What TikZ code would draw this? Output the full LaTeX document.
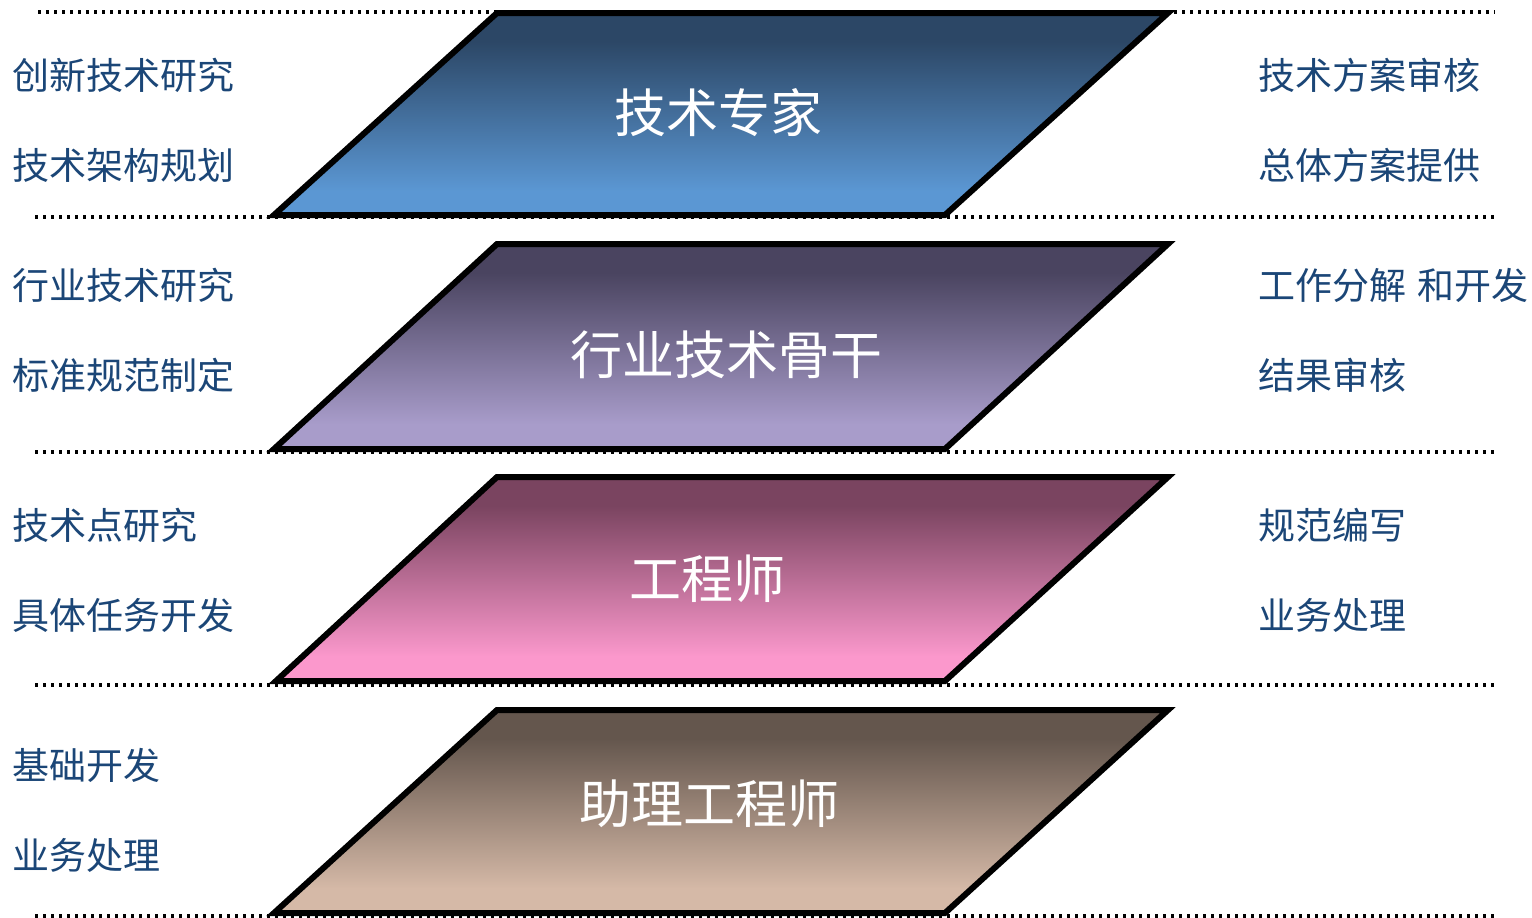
\documentclass[tikz,border=0pt]{standalone}
\usepackage{fontspec}
\newfontfamily\cjk{Noto Sans CJK SC}
\definecolor{sidetext}{HTML}{1B4677}
\definecolor{aTop}{HTML}{2C4766}
\definecolor{aBot}{HTML}{5B97D3}
\definecolor{bTop}{HTML}{4A4460}
\definecolor{bBot}{HTML}{A89CCA}
\definecolor{cTop}{HTML}{7A4460}
\definecolor{cBot}{HTML}{FB98CC}
\definecolor{dTop}{HTML}{64564D}
\definecolor{dBot}{HTML}{D5B9A7}
\pgfdeclareverticalshading{aShade}{100bp}{color(0bp)=(aBot); color(31bp)=(aBot); color(68bp)=(aTop); color(100bp)=(aTop)}
\pgfdeclareverticalshading{bShade}{100bp}{color(0bp)=(bBot); color(31bp)=(bBot); color(68bp)=(bTop); color(100bp)=(bTop)}
\pgfdeclareverticalshading{cShade}{100bp}{color(0bp)=(cBot); color(31bp)=(cBot); color(68bp)=(cTop); color(100bp)=(cTop)}
\pgfdeclareverticalshading{dShade}{100bp}{color(0bp)=(dBot); color(31bp)=(dBot); color(68bp)=(dTop); color(100bp)=(dTop)}
\tikzset{
  sep/.style={line width=3.2pt, dash pattern=on 3.2pt off 4.8pt},
  layer/.style={draw=black, line width=6pt, line join=miter},
  sidel/.style={anchor=west, inner sep=0pt, text=sidetext, font=\cjk\fontsize{37}{40}\selectfont},
  sider/.style={anchor=west, inner sep=0pt, text=sidetext, font=\cjk\fontsize{37}{40}\selectfont},
  title/.style={anchor=center, inner sep=0pt, text=white, font=\cjk\fontsize{52}{56}\selectfont}
}
\begin{document}
\begin{tikzpicture}[x=1pt,y=-1pt]
\useasboundingbox (0,0) rectangle (1532,918);
% separators
\draw[sep] (38,12) -- (1495,12);
\draw[sep] (35,217) -- (1495,217);
\draw[sep] (35,452) -- (1495,452);
\draw[sep] (35,685) -- (1495,685);
\draw[sep] (35,916) -- (1495,916);
% layers
\path[layer, shading=aShade] (497,13) -- (1168,13) -- (945,215) -- (274,215) -- cycle;
\path[layer, shading=bShade] (497,244) -- (1168,244) -- (945,449) -- (274,449) -- cycle;
\path[layer, shading=cShade] (497,477) -- (1168,477) -- (945,681) -- (276,681) -- cycle;
\path[layer, shading=dShade] (497,710) -- (1168,710) -- (945,913) -- (274,913) -- cycle;
% titles
\node[title] (t1) at (718,113) {技术专家};
\node[title] (t2) at (726,355) {行业技术骨干};
\node[title] (t3) at (707,579) {工程师};
\node[title] (t4) at (709,804) {助理工程师};
% left texts
\node[sidel] (l1) at (12,75) {创新技术研究};
\node[sidel] (l2) at (12,165) {技术架构规划};
\node[sidel] (l3) at (12,285) {行业技术研究};
\node[sidel] (l4) at (12,375) {标准规范制定};
\node[sidel] (l5) at (12,525) {技术点研究};
\node[sidel] (l6) at (12,615) {具体任务开发};
\node[sidel] (l7) at (12,765) {基础开发};
\node[sidel] (l8) at (12,855) {业务处理};
% right texts
\node[sider] (r1) at (1258,75) {技术方案审核};
\node[sider] (r2) at (1258,165) {总体方案提供};
\node[sider] (r3) at (1258,285) {工作分解\hspace{0.3em}和开发};
\node[sider] (r4) at (1258,375) {结果审核};
\node[sider] (r5) at (1258,525) {规范编写};
\node[sider] (r6) at (1258,615) {业务处理};
\end{tikzpicture}
\end{document}
